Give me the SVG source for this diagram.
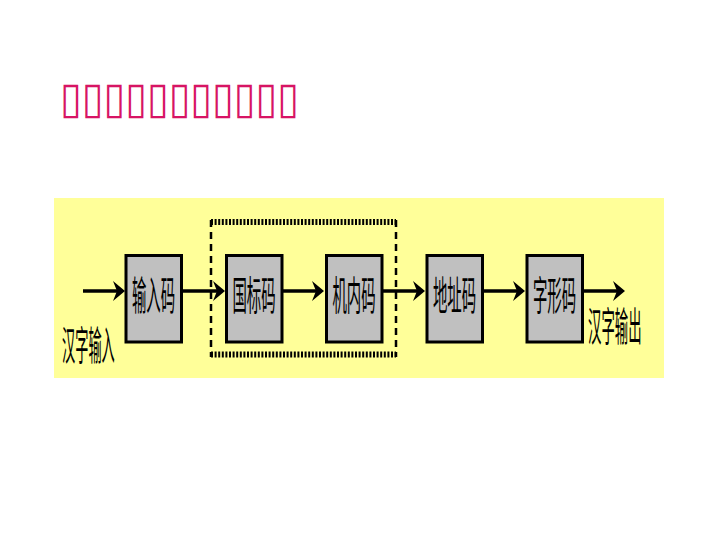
<svg xmlns="http://www.w3.org/2000/svg" width="720" height="540" viewBox="0 0 720 540">
<style>
.title{font-family:"DejaVu Sans",sans-serif;font-size:44px;fill:#D71464}
.node rect{fill:#C0C0C0;stroke:#000;stroke-width:3}
.lbl{font-family:"Noto Sans CJK SC","Liberation Sans",sans-serif;font-size:40px;fill:#000}
.mid{text-anchor:middle}
.conn line{stroke:#000;stroke-width:3.5}
.dashH{stroke:#000;stroke-width:6;stroke-dasharray:2 1.6;fill:none}
.dashV{stroke:#000;stroke-width:2.5;stroke-dasharray:7 5;fill:none}
</style>
<defs>
<marker id="ah" viewBox="0 0 12 20" markerWidth="12" markerHeight="20" refX="6" refY="10" orient="auto" markerUnits="userSpaceOnUse">
<path d="M0,0 L12,10 L0,20 L4,10 Z" fill="#000"/>
</marker>
</defs>
<rect width="720" height="540" fill="#fff"/>
<text class="title" x="60" y="113" textLength="239" lengthAdjust="spacingAndGlyphs">▯▯▯▯▯▯▯▯▯▯▯</text>
<rect id="panel" x="54" y="198" width="610" height="180" fill="#FFFF99"/>
<g id="group-dashed">
<line class="dashH" x1="211" y1="222" x2="396" y2="222"/>
<line class="dashH" x1="211" y1="354.5" x2="396" y2="354.5"/>
<line class="dashV" x1="211" y1="220" x2="211" y2="357"/>
<line class="dashV" x1="396" y1="220" x2="396" y2="357"/>
</g>
<g id="conn" class="conn">
<line x1="83" y1="291" x2="119" y2="291" marker-end="url(#ah)"/>
<line x1="183" y1="291" x2="219" y2="291" marker-end="url(#ah)"/>
<line x1="283" y1="291" x2="318" y2="291" marker-end="url(#ah)"/>
<line x1="383" y1="291" x2="419" y2="291" marker-end="url(#ah)"/>
<line x1="484" y1="291" x2="519" y2="291" marker-end="url(#ah)"/>
<line x1="584" y1="291" x2="619" y2="291" marker-end="url(#ah)"/>
</g>
<g id="n1" class="node"><rect x="126" y="255.5" width="55.5" height="86.5"/><text class="lbl mid" transform="translate(153.5,310) scale(0.36,1)">输入码</text></g>
<g id="n2" class="node"><rect x="226.5" y="255.5" width="55.5" height="86.5"/><text class="lbl mid" transform="translate(254,310) scale(0.36,1)">国标码</text></g>
<g id="n3" class="node"><rect x="326.5" y="255.5" width="55.5" height="86.5"/><text class="lbl mid" transform="translate(354,310) scale(0.36,1)">机内码</text></g>
<g id="n4" class="node"><rect x="427" y="255.5" width="55.5" height="86.5"/><text class="lbl mid" transform="translate(454.5,310) scale(0.36,1)">地址码</text></g>
<g id="n5" class="node"><rect x="527" y="255.5" width="55.5" height="86.5"/><text class="lbl mid" transform="translate(554.5,310) scale(0.36,1)">字形码</text></g>
<text id="in-label" class="lbl" transform="translate(62,360) scale(0.33,1)">汉字输入</text>
<text id="out-label" class="lbl" transform="translate(588,341) scale(0.335,1)">汉字输出</text>
</svg>
